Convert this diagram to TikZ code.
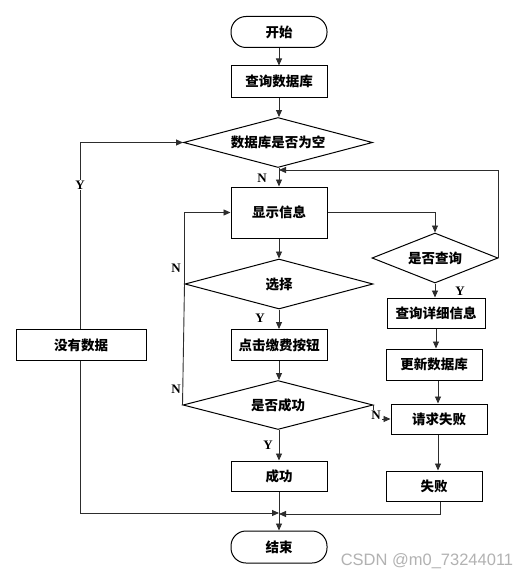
\documentclass[tikz,border=0pt]{standalone}
\usepackage{fontspec}
\newfontfamily\cjk{Noto Sans CJK SC}
\newfontfamily\lbl{Liberation Serif}
\newfontfamily\wm{Liberation Sans}
\usetikzlibrary{arrows.meta,shapes.geometric}
\definecolor{conn}{RGB}{45,45,45}
\tikzset{
  txt/.style={font=\cjk\bfseries\fontsize{13.5}{16}\selectfont, inner sep=0pt},
  base/.style={txt, draw=black, line width=1pt, fill=white},
  box/.style={base, rectangle, minimum width=96pt, minimum height=31pt},
  term/.style={base, rectangle, rounded corners=15pt, minimum width=96pt, minimum height=31pt},
  dia/.style={draw=black, line width=1pt, fill=white, diamond, inner sep=0pt, minimum width=#1, minimum height=50pt},
  flow/.style={draw=conn, line width=0.9pt, -{Triangle[length=7pt,width=6pt]}},
  plain/.style={draw=conn, line width=0.9pt},
  yn/.style={font=\lbl\bfseries\fontsize{13}{15}\selectfont, inner sep=1pt, fill=white},
}
\begin{document}
\begin{tikzpicture}[x=1pt,y=-1pt]
\useasboundingbox[fill=white] (0,0) rectangle (530,578);
% nodes
\node[term] (start) at (279,32) {开始};
\node[box] (query) at (279,81.5) {查询数据库};
\node[dia=189pt] (empty) at (278,142.5) {};
\node[txt] (emptyT) at (empty.center) {数据库是否为空};
\node[box, minimum height=51pt] (show) at (279,212.5) {显示信息};
\node[dia=126pt] (ask) at (435,258) {};
\node[txt] (askT) at (ask.center) {是否查询};
\node[box, minimum width=98pt, minimum height=30pt] (detail) at (436,313) {查询详细信息};
\node[dia=188pt] (choose) at (279,284) {};
\node[txt] (chooseT) at (choose.center) {选择};
\node[box] (click) at (279,345) {点击缴费按钮};
\node[box, minimum width=130pt] (nodata) at (81,345) {没有数据};
\node[dia=190pt, minimum height=49pt] (ok) at (278,405) {};
\node[txt] (okT) at (ok.center) {是否成功};
\node[box, minimum height=30pt] (succ) at (279,476) {成功};
\node[box, minimum height=30pt] (reqfail) at (439,419) {请求失败};
\node[box] (update) at (434,364.5) {更新数据库};
\node[box, minimum height=30pt] (fail) at (434,486) {失败};
\node[term, minimum height=32pt] (end) at (279,547) {结束};
% helper coordinates
\coordinate (loopin) at (279,170);
\coordinate (joinL) at (279,513);
\coordinate (joinR) at (279,514);
% connectors
\draw[flow] (start) -- (query);
\draw[flow] (query) -- (empty.north -| query);
\draw[flow] (empty.south -| show) -- (show);
\draw[flow] (nodata.north -| 80,0) |- (empty.west);
\draw[flow] (show.east) -| (ask.north);
\draw[flow] (ask.east) |- (loopin);
\draw[flow] (ask.south) -- (detail.north -| ask.south);
\draw[flow] (show) -- (choose);
\draw[flow] (choose) -- (click);
\draw[flow] (choose.west) |- (show.west);
\draw[plain] (ok.west) -- (choose.west);
\draw[flow] (click) -- (ok.north -| click);
\draw[flow] (ok.south -| succ) -- (succ);
\draw[flow] (ok.east) |- (reqfail.west);
\draw[flow] (detail.south -| 436,0) -- (update.north -| 436,0);
\draw[flow] (update.south -| 438,0) -- (reqfail.north -| 438,0);
\draw[flow] (reqfail.south -| 438,0) -- (fail.north -| 438,0);
\draw[flow] (succ) -- (end);
\draw[flow] (nodata.south -| 80,0) |- (joinL);
\draw[flow] (fail.south -| 440,0) |- (joinR);
% labels
\node[yn] (lN1) at (262,178) {N};
\node[yn] (lY1) at (80,185) {Y};
\node[yn] (lY2) at (460,291) {Y};
\node[yn] (lN2) at (176,268) {N};
\node[yn] (lY3) at (260,318) {Y};
\node[yn] (lN3) at (176,389) {N};
\node[yn] (lN4) at (376,415) {N};
\node[yn] (lY4) at (268,445) {Y};
\node[font=\wm\fontsize{16.5}{18}\selectfont, text=black!30, inner sep=0pt] (wmk) at (427,561) {CSDN @m0\_73244011};
\end{tikzpicture}
\end{document}
